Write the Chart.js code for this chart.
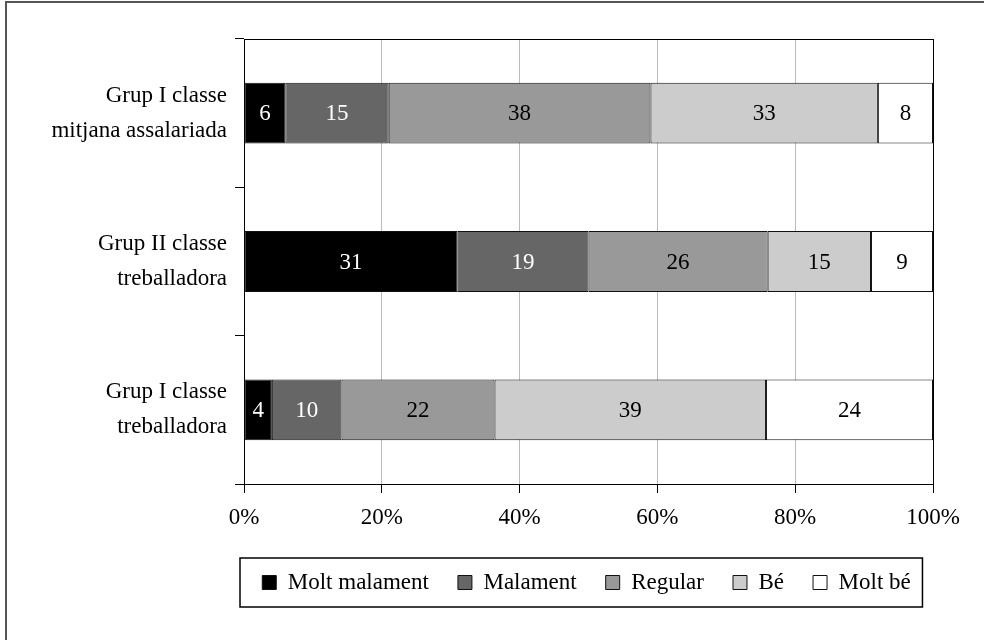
<!DOCTYPE html>
<html>
<head>
<meta charset="utf-8">
<script src="https://cdn.jsdelivr.net/npm/chart.js@4.4.1/dist/chart.umd.min.js"></script>
<style>
  html, body { margin: 0; padding: 0; background: #fff; }
  #wrap { position: relative; width: 984px; height: 640px; }
</style>
</head>
<body>
<div id="wrap"><canvas id="chart" width="984" height="640"></canvas></div>
<script>
// categories, top to bottom
const categories = [
    ["Grup I classe", "mitjana assalariada"],
    ["Grup II classe", "treballadora"],
    ["Grup I classe", "treballadora"],
];

// series values (percent of respondents per group)
const moltMalament = [6, 31, 4];
const malament = [15, 19, 10];
const regular = [38, 26, 22];
const be = [33, 15, 39];
const moltBe = [8, 9, 24];

const xTicks = [0, 20, 40, 60, 80, 100];

const seriesNames = ["Molt malament", "Malament", "Regular", "Bé", "Molt bé"];
const seriesValues = [moltMalament, malament, regular, be, moltBe];
const seriesColors = ["#000000", "#666666", "#999999", "#cccccc", "#ffffff"];
const labelColors = ["#ffffff", "#ffffff", "#000000", "#000000", "#000000"];

const FONT = "'Liberation Serif', 'Times New Roman', serif";
const FSIZE = 23;

// row totals, so every bar fills 100%
const totals = categories.map((_, i) =>
    seriesValues.reduce((s, arr) => s + arr[i], 0)
);

const datasets = seriesNames.map((name, k) => ({
    label: name,
    data: seriesValues[k].map((v, i) => (v / totals[i]) * 100),
    raw: seriesValues[k],
    backgroundColor: seriesColors[k],
    borderColor: "#111",
    borderWidth: 1,
    borderSkipped: false,
    categoryPercentage: 1,
    barPercentage: 0.41,
}));

const framePlugin = {
    id: "frame",
    beforeDraw(chart) {
        const ctx = chart.ctx;
        ctx.save();
        ctx.fillStyle = "#fff";
        ctx.fillRect(0, 0, chart.width, chart.height);
        ctx.strokeStyle = "#555";
        ctx.lineWidth = 2;
        ctx.beginPath();
        ctx.moveTo(6, chart.height);
        ctx.lineTo(6, 2);
        ctx.lineTo(chart.width, 2);
        ctx.stroke();
        ctx.restore();
    },
};

// centre the legend under the plot instead of the whole canvas
const legendShift = {
    id: "legendShift",
    afterLayout(chart) {
        chart.legend.left += 120;
        chart.legend.right += 120;
    },
};

const plotBorder = {
    id: "plotBorder",
    afterDatasetsDraw(chart) {
        const a = chart.chartArea;
        const ctx = chart.ctx;
        ctx.save();
        ctx.strokeStyle = "#000";
        ctx.lineWidth = 1;
        ctx.strokeRect(a.left + 0.5, a.top + 0.5, a.right - a.left, a.bottom - a.top);
        ctx.restore();
    },
};

const valueLabels = {
    id: "valueLabels",
    afterDatasetsDraw(chart) {
        const ctx = chart.ctx;
        ctx.save();
        ctx.font = FSIZE + "px " + FONT;
        ctx.textAlign = "center";
        ctx.textBaseline = "middle";
        chart.data.datasets.forEach((ds, k) => {
            const meta = chart.getDatasetMeta(k);
            meta.data.forEach((el, i) => {
                ctx.fillStyle = labelColors[k];
                ctx.fillText(String(ds.raw[i]), (el.x + el.base) / 2, el.y + 1);
            });
        });
        ctx.restore();
    },
};

const legendBox = {
    id: "legendBox",
    afterDraw(chart) {
        const boxes = chart.legend.legendHitBoxes;
        if (!boxes || !boxes.length) return;
        const minX = Math.min(...boxes.map((b) => b.left));
        const maxX = Math.max(...boxes.map((b) => b.left + b.width));
        const cy = boxes[0].top + boxes[0].height / 2;
        const ctx = chart.ctx;
        ctx.save();
        ctx.strokeStyle = "#000";
        ctx.lineWidth = 1.5;
        ctx.strokeRect(Math.round(minX - 22), Math.round(cy - 25), maxX - minX + 34, 49);
        ctx.restore();
    },
};

new Chart(document.getElementById("chart"), {
    type: "bar",
    data: { labels: categories, datasets: datasets },
    options: {
        indexAxis: "y",
        responsive: false,
        animation: false,
        layout: { padding: { top: 39, right: 51, left: 0, bottom: 36 } },
        scales: {
            x: {
                stacked: true,
                min: 0,
                max: 100,
                afterBuildTicks: (scale) => {
                    scale.ticks = xTicks.map((v) => ({ value: v }));
                },
                afterFit: (scale) => {
                    scale.height = 58;
                },
                grid: {
                    color: "#bbbbbb",
                    tickColor: "#000",
                    tickLength: 9,
                    lineWidth: 1,
                },
                border: { color: "#000", width: 1 },
                ticks: {
                    color: "#000",
                    padding: 11,
                    font: { family: FONT, size: FSIZE },
                    callback: (v) => v + "%",
                },
            },
            y: {
                stacked: true,
                afterFit: (scale) => {
                    scale.width = 244;
                    scale.paddingTop = 0;
                    scale.paddingBottom = 0;
                },
                grid: {
                    drawOnChartArea: false,
                    tickColor: "#000",
                    tickLength: 9,
                    offset: true,
                },
                border: { color: "#000", width: 1 },
                ticks: {
                    color: "#000",
                    padding: 8,
                    font: { family: FONT, size: FSIZE, lineHeight: 1.52 },
                },
            },
        },
        plugins: {
            legend: {
                position: "bottom",
                labels: {
                    color: "#000",
                    boxWidth: 14,
                    boxHeight: 14,
                    padding: 29,
                    font: { family: FONT, size: FSIZE },
                },
            },
            tooltip: { enabled: false },
        },
    },
    plugins: [framePlugin, legendShift, plotBorder, valueLabels, legendBox],
});
</script>
</body>
</html>
